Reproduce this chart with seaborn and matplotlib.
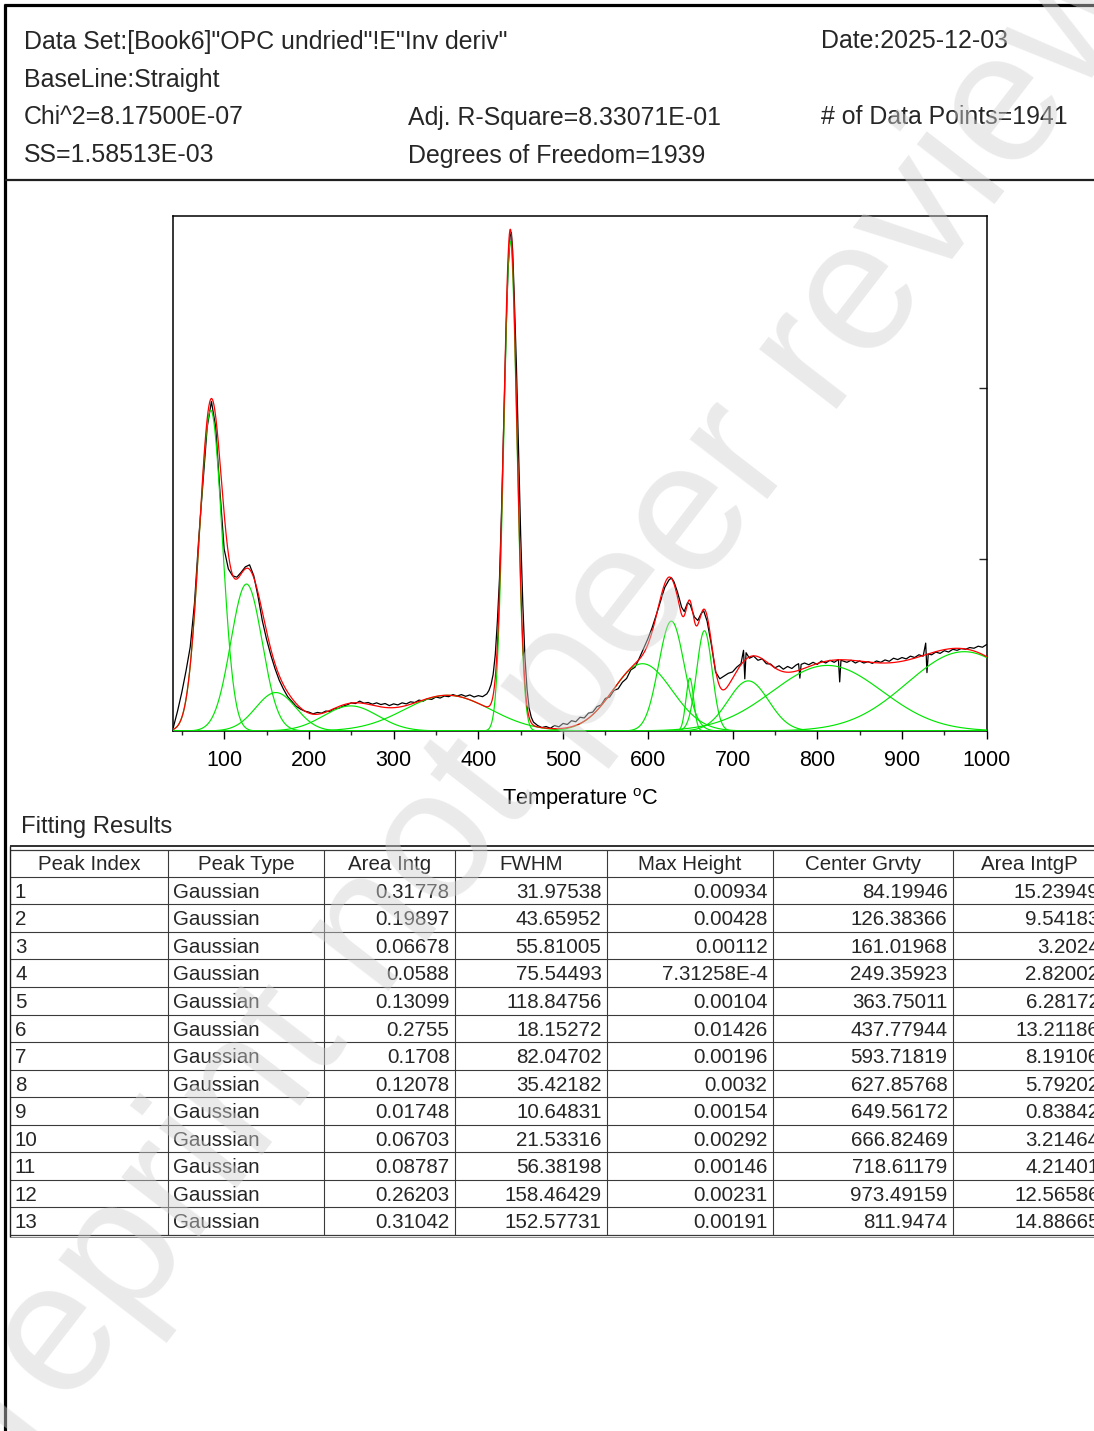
import numpy as np
import pandas as pd
import matplotlib
matplotlib.use("Agg")
import matplotlib.pyplot as plt
import seaborn as sns

# ---------------- report header text ----------------
header_left = ['Data Set:[Book6]"OPC undried"!E"Inv deriv"', "BaseLine:Straight",
               "Chi^2=8.17500E-07", "SS=1.58513E-03"]
header_mid = ["Adj. R-Square=8.33071E-01", "Degrees of Freedom=1939"]
header_right = ["Date:2025-12-03", "# of Data Points=1941"]

# ---------------- fitting results table ----------------
table_columns = ["Peak Index", "Peak Type", "Area Intg", "FWHM", "Max Height", "Center Grvty", "Area IntgP"]
peak_index = ["1", "2", "3", "4", "5", "6", "7", "8", "9", "10", "11", "12", "13"]
peak_type = ["Gaussian"] * 13
area_intg = ["0.31778", "0.19897", "0.06678", "0.0588", "0.13099", "0.2755", "0.1708",
             "0.12078", "0.01748", "0.06703", "0.08787", "0.26203", "0.31042"]
fwhm = ["31.97538", "43.65952", "55.81005", "75.54493", "118.84756", "18.15272", "82.04702",
        "35.42182", "10.64831", "21.53316", "56.38198", "158.46429", "152.57731"]
max_height = ["0.00934", "0.00428", "0.00112", "7.31258E-4", "0.00104", "0.01426", "0.00196",
              "0.0032", "0.00154", "0.00292", "0.00146", "0.00231", "0.00191"]
center_grvty = ["84.19946", "126.38366", "161.01968", "249.35923", "363.75011", "437.77944",
                "593.71819", "627.85768", "649.56172", "666.82469", "718.61179", "973.49159", "811.9474"]
area_intgp = ["15.23949", "9.54183", "3.2024", "2.82002", "6.28172", "13.21186", "8.19106",
              "5.79202", "0.83842", "3.21464", "4.21401", "12.56586", "14.88665"]

data_temp = [
    40, 45, 50, 55, 60, 65, 70, 75, 80, 85, 90, 95, 100, 105, 110, 115, 120, 125, 130, 135,
    140, 145, 150, 155, 160, 165, 170, 175, 180, 185, 190, 195, 200, 205, 210, 215, 220, 225,
    230, 235, 240, 245, 250, 255, 260, 265, 270, 275, 280, 285, 290, 295, 300, 305, 310, 315,
    320, 325, 330, 335, 340, 345, 350, 355, 360, 365, 370, 375, 380, 385, 390, 395, 400, 405, 410,
    412.5, 415, 417.5, 420, 422.5, 425, 427.5, 430, 432.5, 435, 437.5, 439, 440.5, 442.5, 445,
    447.5, 450, 452.5, 455, 457.5, 460, 462.5, 465,
    470, 475, 480, 485, 490, 495, 500, 505, 510, 515, 520, 525, 530, 535, 540, 545, 550, 555,
    560, 565, 570, 575, 580, 585, 590, 595, 600, 605, 610, 615, 620, 625,
    628, 631, 635, 640, 643, 647, 650, 655, 659, 663, 666, 670, 675, 680, 685, 690, 695, 700,
    705, 710, 713, 714.5, 716,
    720, 725, 730, 735, 740, 745, 750, 755, 760, 765, 770, 775, 778, 779.5, 781, 785, 790, 795,
    800, 805, 810, 815, 820, 825, 826.5, 828, 835, 840, 845, 850, 855, 860, 865, 870, 875, 880,
    885, 890, 895, 900, 905, 910, 915, 920, 925, 928, 929.5, 931, 935, 940, 945, 950, 955, 960,
    965, 970, 975, 980, 985, 990, 995, 1000]
data_dtg = [
    0.00010, 0.00058, 0.00112, 0.00175, 0.00245, 0.00372, 0.00560, 0.00722, 0.00885, 0.00960,
    0.00885, 0.00700, 0.00530, 0.00472, 0.00452, 0.00448, 0.00462, 0.00478, 0.00484, 0.00452,
    0.00392, 0.00322, 0.00268, 0.00222, 0.00182, 0.00148, 0.00122, 0.00100, 0.00086, 0.00072,
    0.00064, 0.00058, 0.00055, 0.00050, 0.00054, 0.00052, 0.00058, 0.00057, 0.00065, 0.00066,
    0.00072, 0.00076, 0.00082, 0.00080, 0.00087, 0.00081, 0.00083, 0.00078, 0.00082, 0.00077,
    0.00080, 0.00074, 0.00079, 0.00076, 0.00082, 0.00079, 0.00085, 0.00083, 0.00090, 0.00087,
    0.00094, 0.00092, 0.00099, 0.00096, 0.00102, 0.00100, 0.00106, 0.00102, 0.00106, 0.00101,
    0.00105, 0.00099, 0.00103, 0.00100, 0.00108,
    0.00118, 0.00135, 0.00165, 0.00222, 0.00320, 0.00445, 0.00650, 0.00900, 0.01140, 0.01340,
    0.01440, 0.01452, 0.01400, 0.01260, 0.01060, 0.00810, 0.00570, 0.00370, 0.00215, 0.00122,
    0.00066, 0.00040, 0.00026,
    0.00016, 0.00010, 0.00013, 0.00008, 0.00016, 0.00012, 0.00022, 0.00019, 0.00030, 0.00027,
    0.00040, 0.00038, 0.00052, 0.00055, 0.00071, 0.00076, 0.00095, 0.00099, 0.00118, 0.00123,
    0.00142, 0.00153, 0.00178, 0.00186, 0.00212, 0.00240, 0.00268, 0.00300, 0.00338, 0.00378,
    0.00418, 0.00440,
    0.00446, 0.00434, 0.00405, 0.00360, 0.00348, 0.00374, 0.00368, 0.00332, 0.00322, 0.00342,
    0.00350, 0.00320, 0.00252, 0.00172, 0.00152, 0.00160, 0.00168, 0.00172, 0.00186, 0.00196,
    0.00235, 0.00152, 0.00228,
    0.00212, 0.00218, 0.00206, 0.00210, 0.00196, 0.00195, 0.00184, 0.00190, 0.00180, 0.00188,
    0.00182, 0.00192, 0.00196, 0.00154, 0.00194, 0.00198, 0.00193, 0.00200, 0.00194, 0.00204,
    0.00198, 0.00206, 0.00200, 0.00208, 0.00143, 0.00206, 0.00200, 0.00206, 0.00198, 0.00204,
    0.00198, 0.00202, 0.00197, 0.00204, 0.00200, 0.00207, 0.00203, 0.00212, 0.00208, 0.00214,
    0.00210, 0.00218, 0.00214, 0.00222, 0.00218, 0.00256, 0.00170, 0.00224, 0.00222, 0.00230,
    0.00226, 0.00234, 0.00230, 0.00238, 0.00235, 0.00240, 0.00238, 0.00243, 0.00241, 0.00247,
    0.00244, 0.00252]
assert len(data_temp) == len(data_dtg)

x_ticks = [100, 200, 300, 400, 500, 600, 700, 800, 900, 1000]
x_label = r"Temperature $^{\mathrm{o}}$C"
watermark = "Preprint not peer reviewed"

# ---------------- style ----------------
sns.set_theme(style="ticks")
plt.rcParams["font.family"] = ["Liberation Sans", "DejaVu Sans"]
plt.rcParams["mathtext.fontset"] = "custom"
plt.rcParams["mathtext.rm"] = "Liberation Sans"

W, H = 1094, 1431
fig = plt.figure(figsize=(W / 100, H / 100), dpi=100)
fig.patch.set_facecolor("white")

# page layer in pixel coordinates
page = fig.add_axes([0, 0, 1, 1], zorder=0)
page.set_xlim(0, W)
page.set_ylim(H, 0)
page.axis("off")

def hline(y, x0, x1, lw=0.8, color="#3a3a3a"):
    page.plot([x0, x1], [y, y], color=color, lw=lw, solid_capstyle="butt")

def vline(x, y0, y1, lw=0.8, color="#3a3a3a"):
    page.plot([x, x], [y0, y1], color=color, lw=lw, solid_capstyle="butt")

# frame of the report
vline(5, 3.5, H, lw=2.3, color="black")
hline(5, 3.5, W, lw=2.3, color="black")
hline(180, 5, W, lw=1.6, color="#202020")

hfs = 17.9
baselines = [48.5, 86.5, 124.5, 162.5]
for s, yb in zip(header_left, baselines):
    page.text(24, yb, s, fontsize=hfs, va="baseline", ha="left")
for s, yb in zip(header_mid, baselines[2:]):
    page.text(407.5, yb, s, fontsize=hfs, va="baseline", ha="left")
page.text(821, baselines[0], header_right[0], fontsize=hfs, va="baseline", ha="left")
page.text(821, baselines[2], header_right[1], fontsize=hfs, va="baseline", ha="left")

# ---------------- chart ----------------
ax = fig.add_axes([173.3 / W, 1 - 731 / H, (986.7 - 173.3) / W, (731 - 216) / H], zorder=1)
ax.set_facecolor("white")

grid = np.linspace(40, 1000, 3000)
centers = [float(v) for v in center_grvty]
widths = [float(v) for v in fwhm]
heights = [float(v) for v in max_height]
comp_frames = []
fit = np.zeros_like(grid)
for i, (c, w, h) in enumerate(zip(centers, widths, heights)):
    yv = h * np.exp(-4 * np.log(2) * (grid - c) ** 2 / w ** 2)
    fit += yv
    comp_frames.append(pd.DataFrame({"T": grid, "y": yv, "peak": i + 1}))
comp_df = pd.concat(comp_frames, ignore_index=True)

sns.lineplot(x=data_temp, y=data_dtg, color="black", lw=0.9, estimator=None, sort=False, ax=ax, zorder=2)
sns.lineplot(data=comp_df, x="T", y="y", units="peak", estimator=None, color="#00e600", lw=0.85,
             ax=ax, legend=False, zorder=3)
sns.lineplot(x=grid, y=fit, color="#ff0000", lw=0.9, estimator=None, sort=False, ax=ax, zorder=4)

ax.set_xlim(40, 1000)
ax.set_ylim(0, 0.015)
ax.set_xticks(x_ticks)
ax.set_xticks(list(range(50, 1001, 50)), minor=True)
ax.set_xticklabels([str(t) for t in x_ticks])
ax.tick_params(axis="x", which="major", direction="out", length=6, width=1.0, labelsize=15.5, pad=7.5,
               colors="black", bottom=True, top=False)
ax.tick_params(axis="x", which="minor", direction="out", length=3.2, width=1.0, bottom=True, top=False)
ax.yaxis.tick_right()
ax.set_yticks([0.005, 0.01])
ax.tick_params(axis="y", which="major", direction="in", length=6, width=1.0, right=True, left=False,
               labelright=False, labelleft=False)
ax.tick_params(axis="y", which="minor", right=False, left=False)
for sp in ax.spines.values():
    sp.set_visible(True)
    sp.set_color("black")
    sp.set_linewidth(1.1)
ax.set_xlabel(x_label, fontsize=15.7, labelpad=11, color="black")
ax.set_ylabel("")

# ---------------- fitting results ----------------
page.text(21, 833, "Fitting Results", fontsize=17.2, va="baseline", ha="left")

col_edges = [9.5, 168, 324, 455, 607, 773, 953, 1105]
row_tops = [876.7 + 27.56 * k for k in range(14)]
head_top = 850
tfs = 14.8

hline(845.5, 9.5, W, lw=1.3, color="#202020")
hline(head_top, 9.5, W, lw=0.9, color="#3a3a3a")
for y in row_tops[:-1]:
    hline(y, 9.5, W)
hline(row_tops[-1], 9.5, W, lw=0.9, color="#3a3a3a")
hline(row_tops[-1] + 2.5, 9.5, W, lw=0.7, color="#8a8a8a")
vline(col_edges[0], 845.5, row_tops[-1] + 2.5, lw=1.0, color="#202020")
for x in col_edges[1:-1]:
    vline(x, head_top, row_tops[-1])

for j, name in enumerate(table_columns):
    xc = (col_edges[j] + col_edges[j + 1]) / 2
    page.text(xc, 870.3, name, fontsize=tfs, ha="center", va="baseline")

columns = [peak_index, peak_type, area_intg, fwhm, max_height, center_grvty, area_intgp]
for j, col in enumerate(columns):
    for i, val in enumerate(col):
        yb = row_tops[i] + 27.56 / 2 + 7.3
        if j == 0:
            page.text(col_edges[0] + 5.5, yb, val, fontsize=tfs, ha="left", va="baseline")
        elif j == 1:
            page.text(col_edges[1] + 5, yb, val, fontsize=tfs, ha="left", va="baseline")
        else:
            page.text(col_edges[j + 1] - 5.5, yb, val, fontsize=tfs, ha="right", va="baseline")

# ---------------- watermark ----------------
fig.text(580 / W, 1 - 664 / H, watermark, rotation=52.4, rotation_mode="anchor",
         ha="center", va="center", fontsize=134, color="#d2d2d2", alpha=0.45,
         family="Liberation Sans", zorder=20)

fig.savefig("out.png", dpi=100, facecolor="white")
